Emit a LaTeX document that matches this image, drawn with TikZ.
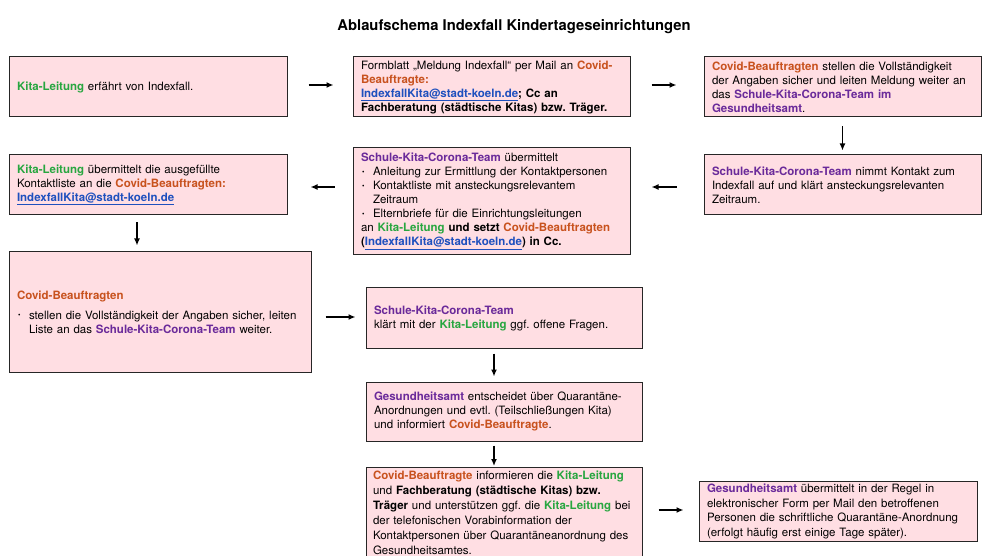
\documentclass[tikz,border=0pt]{standalone}
\usepackage{fontspec}
\setmainfont{TeX Gyre Heros}
\usetikzlibrary{arrows.meta}
\frenchspacing

\definecolor{boxpink}{RGB}{255,222,227}
\definecolor{kitagruen}{RGB}{40,166,64}
\definecolor{covidorange}{RGB}{200,82,30}
\definecolor{teamlila}{RGB}{106,42,154}
\definecolor{mailblau}{RGB}{30,80,190}

\newcommand{\kitaltg}[1]{\textcolor{kitagruen}{\textbf{#1}}}
\newcommand{\covidb}[1]{\textcolor{covidorange}{\textbf{#1}}}
\newcommand{\skct}[1]{\textcolor{teamlila}{\textbf{#1}}}
\newcommand{\mailadr}[1]{\textcolor{mailblau}{\textbf{\underline{#1}}}}
\newcommand{\punkt}{\makebox[12pt][l]{\hspace{1pt}\raisebox{1.2pt}{\scriptsize\textbullet}}}
\newcommand{\einr}{\hspace*{12pt}}

\begin{document}
\begin{tikzpicture}[x=1pt,y=-1pt,
  box/.style={shape=rectangle, draw=black!85, line width=1pt, fill=boxpink,
    inner xsep=8pt, inner ysep=3pt, align=left,
    font=\fontsize{11.5}{14}\selectfont},
  >={Latex[length=7pt,width=6pt]}]
%[line width=1.6pt]
\path[use as bounding box, clip] (0,0) rectangle (994,556);

\path (514,27) node (titel) [font=\bfseries\fontsize{14.8}{17}\selectfont] {Ablaufschema Indexfall Kindertageseinrichtungen};

\path (148,87) node (S1) [box, minimum width=278, minimum height=60, text width=262pt] {\kitaltg{Kita-Leitung} erfährt von Indexfall.};
\path (491.5,87) node (S2) [box, minimum width=277, minimum height=60, text width=261pt] {Formblatt „Meldung Indexfall“ per Mail an \covidb{Covid-}\\ \covidb{Beauftragte:}\\ \mailadr{IndexfallKita@stadt-koeln.de}\textbf{; Cc an}\\ \textbf{Fachberatung (städtische Kitas) bzw. Träger.}};
\path (842.5,87) node (S3) [box, minimum width=277, minimum height=60, text width=261pt] {\covidb{Covid-Beauftragten} stellen die Vollständigkeit\\ der Angaben sicher und leiten Meldung weiter an\\ das \skct{Schule-Kita-Corona-Team im}\\ \skct{Gesundheitsamt}.};

\path (842.5,185) node (S4) [box, minimum width=277, minimum height=60, text width=261pt] {\skct{Schule-Kita-Corona-Team} nimmt Kontakt zum\\ Indexfall auf und klärt ansteckungsrelevanten\\ Zeitraum.};
\path (491.5,201.5) node (S5) [box, minimum width=277, minimum height=107, text width=261pt] {\skct{Schule-Kita-Corona-Team} übermittelt\\ \punkt Anleitung zur Ermittlung der Kontaktpersonen\\ \punkt Kontaktliste mit ansteckungsrelevantem\\ \einr Zeitraum\\ \punkt Elternbriefe für die Einrichtungsleitungen\\ an \kitaltg{Kita-Leitung} \textbf{und setzt} \covidb{Covid-Beauftragten}\\ \textbf{(}\mailadr{IndexfallKita@stadt-koeln.de}\textbf{) in Cc.}};
\path (148,185) node (S6) [box, minimum width=278, minimum height=60, text width=262pt] {\kitaltg{Kita-Leitung} übermittelt die ausgefüllte\\ Kontaktliste an die \covidb{Covid-Beauftragten:}\\ \mailadr{IndexfallKita@stadt-koeln.de}};

\path (160,312) node (S7) [box, minimum width=302, minimum height=120, text width=286pt] {\covidb{Covid-Beauftragten}\\[6pt] \punkt stellen die Vollständigkeit der Angaben sicher, leiten\\ \einr Liste an das \skct{Schule-Kita-Corona-Team} weiter.};
\path (504,318) node (S8) [box, minimum width=276, minimum height=60, text width=260pt] {\skct{Schule-Kita-Corona-Team}\\ klärt mit der \kitaltg{Kita-Leitung} ggf. offene Fragen.};
\path (504,411.5) node (S9) [box, minimum width=276, minimum height=59, text width=260pt] {\skct{Gesundheitsamt} entscheidet über Quarantäne-\\ Anordnungen und evtl. (Teilschließungen Kita)\\ und informiert \covidb{Covid-Beauftragte}.};
\path (504,467) node (S10) [box, anchor=north, minimum width=276, inner xsep=7pt, text width=262pt, font=\fontsize{11.5}{15}\selectfont] {\covidb{Covid-Beauftragte} informieren die \kitaltg{Kita-Leitung}\\ und \textbf{Fachberatung (städtische Kitas) bzw.}\\ \textbf{Träger} und unterstützen ggf. die \kitaltg{Kita-Leitung} bei\\ der telefonischen Vorabinformation der\\ Kontaktpersonen über Quarantäneanordnung des\\ Gesundheitsamtes.};
\path (838,511.5) node (S11) [box, minimum width=278, minimum height=55, text width=262pt, font=\fontsize{11.5}{14.6}\selectfont] {\skct{Gesundheitsamt} übermittelt in der Regel in\\ elektronischer Form per Mail den betroffenen\\ Personen die schriftliche Quarantäne-Anordnung\\ (erfolgt häufig erst einige Tage später).};

\draw [->, line width=1.6pt, shorten <=21pt, shorten >=19pt] ([yshift=2]S1.east) to ([yshift=2]S2.west);
\draw [->, line width=1.6pt, shorten <=21pt, shorten >=27pt] ([yshift=2]S2.east) to ([yshift=2]S3.west);
\draw [->, line width=1.6pt, shorten <=9pt, shorten >=4pt] (S3) to (S4);
\draw [->, line width=1.6pt, shorten <=27pt, shorten >=21pt] ([yshift=-2]S4.west) to ([yshift=-2]S4.west -| S5.east);
\draw [->, line width=1.6pt, shorten <=18pt, shorten >=23pt] ([yshift=-2]S5.west |- S6.east) to ([yshift=-2]S6.east);
\draw [->, line width=1.6pt, shorten <=7pt, shorten >=6pt] ([xshift=-11]S6.south) to ([xshift=-11]S6.south |- S7.north);
\draw [->, line width=1.6pt, shorten <=14pt, shorten >=10pt] ([yshift=1]S7.east |- S8.west) to ([yshift=1]S8.west);
\draw [->, line width=1.6pt, shorten <=5pt, shorten >=5pt] ([xshift=-10]S8.south) to ([xshift=-10]S9.north);
\draw [->, line width=1.6pt, shorten <=4pt, shorten >=1pt] ([xshift=-10]S9.south) to ([xshift=-10]S10.north);
\draw [->, line width=1.6pt, shorten <=16pt, shorten >=15pt] ([yshift=1.5]S10.east |- S11.west) to ([yshift=1.5]S11.west);

\end{tikzpicture}
\end{document}
